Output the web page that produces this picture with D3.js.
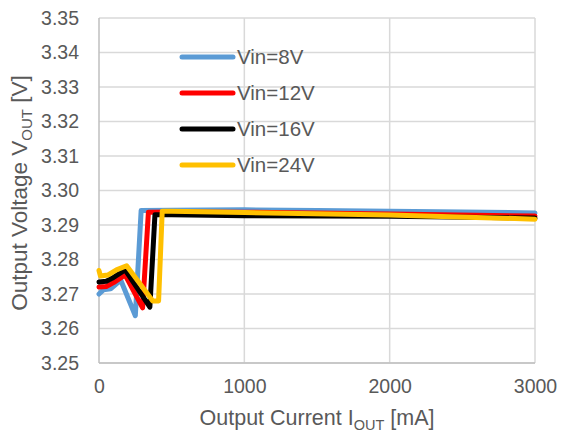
<!DOCTYPE html>
<html><head><meta charset="utf-8">
<script src="https://cdn.jsdelivr.net/npm/d3@7"></script>
<style>body{margin:0;background:#fff;}svg{display:block;font-family:"Liberation Sans",Arial,sans-serif;}</style>
</head><body>
<svg id="c" width="562" height="436"></svg>
<script>
const seriesNames = ["Vin=8V","Vin=12V","Vin=16V","Vin=24V"];
const seriesColors = ["#5B9BD5","#FF0000","#000000","#FFC000"];
const current8  = [0, 30, 80, 150, 250, 290, 500, 1000, 1500, 2000, 2500, 3000];
const volt8     = [3.2700, 3.2712, 3.2715, 3.2740, 3.2637, 3.2942, 3.2943, 3.2944, 3.2942, 3.2940, 3.2938, 3.2935];
const current12 = [0, 50, 100, 180, 300, 340, 500, 1000, 2000, 3000];
const volt12    = [3.2720, 3.2722, 3.2733, 3.2755, 3.2660, 3.2937, 3.2938, 3.2937, 3.2932, 3.2926];
const current16 = [0, 50, 100, 180, 350, 385, 500, 1000, 2000, 3000];
const volt16    = [3.2735, 3.2737, 3.2748, 3.2770, 3.2662, 3.2930, 3.2930, 3.2927, 3.2925, 3.2920];
const current24 = [0, 10, 60, 120, 190, 370, 410, 435, 500, 1000, 2000, 3000];
const volt24    = [3.2768, 3.2752, 3.2755, 3.2770, 3.2782, 3.2680, 3.2680, 3.2940, 3.2940, 3.2936, 3.2929, 3.2917];
const xTicks = [0, 1000, 2000, 3000];
const yTicks = [3.25, 3.26, 3.27, 3.28, 3.29, 3.30, 3.31, 3.32, 3.33, 3.34, 3.35];

const currents = [current8, current12, current16, current24];
const volts = [volt8, volt12, volt16, volt24];

const svg = d3.select("#c");
const L = 99, R = 535, T = 18, B = 363;
const x = d3.scaleLinear().domain([0, 3000]).range([L, R]);
const y = d3.scaleLinear().domain([3.25, 3.35]).range([B, T]);

svg.append("g").selectAll("line").data(yTicks).join("line")
  .attr("x1", L).attr("x2", R).attr("y1", d => y(d)).attr("y2", d => y(d))
  .attr("stroke", "#d9d9d9").attr("stroke-width", 1.5);
svg.append("g").selectAll("line").data(xTicks.slice(1)).join("line")
  .attr("x1", d => x(d)).attr("x2", d => x(d)).attr("y1", T).attr("y2", B)
  .attr("stroke", "#d9d9d9").attr("stroke-width", 1.5);
svg.append("line").attr("x1", L).attr("x2", L).attr("y1", T).attr("y2", B)
  .attr("stroke", "#bfbfbf").attr("stroke-width", 1.5);
svg.append("line").attr("x1", L).attr("x2", R).attr("y1", B).attr("y2", B)
  .attr("stroke", "#bfbfbf").attr("stroke-width", 1.5);

const yAxis = svg.append("g").attr("transform", `translate(${L},0)`)
  .call(d3.axisLeft(y).tickValues(yTicks).tickFormat(d3.format(".2f")).tickSize(0).tickPadding(20));
yAxis.select(".domain").remove();
yAxis.selectAll("text").attr("font-size", 19.5).attr("fill", "#595959").attr("font-family", "Liberation Sans, Arial, sans-serif");

const xAxis = svg.append("g").attr("transform", `translate(0,${B})`)
  .call(d3.axisBottom(x).tickValues(xTicks).tickFormat(d3.format("d")).tickSize(0).tickPadding(16));
xAxis.select(".domain").remove();
xAxis.selectAll("text").attr("font-size", 19.5).attr("fill", "#595959").attr("font-family", "Liberation Sans, Arial, sans-serif");

const line = d3.line().x(d => x(d[0])).y(d => y(d[1])).curve(d3.curveLinear);
currents.forEach((cs, i) => {
  const pts = cs.map((c, j) => [c, volts[i][j]]);
  svg.append("path").datum(pts).attr("d", line)
    .attr("fill", "none").attr("stroke", seriesColors[i]).attr("stroke-width", 5)
    .attr("stroke-linejoin", "round").attr("stroke-linecap", "round");
});

const lg = svg.append("g");
seriesNames.forEach((n, i) => {
  const yy = 57 + i * 36;
  lg.append("line").attr("x1", 182).attr("x2", 233).attr("y1", yy).attr("y2", yy)
    .attr("stroke", seriesColors[i]).attr("stroke-width", 5).attr("stroke-linecap", "round");
  lg.append("text").attr("x", 237).attr("y", yy + 7).attr("font-size", 20.5).attr("fill", "#595959").text(n);
});

const xt = svg.append("text").attr("x", (L + R) / 2).attr("y", 425).attr("text-anchor", "middle")
  .attr("font-size", 21.5).attr("fill", "#595959");
xt.append("tspan").text("Output Current I");
xt.append("tspan").attr("font-size", 14.5).attr("dy", 5).text("OUT");
xt.append("tspan").attr("dy", -5).text(" [mA]");

const yt = svg.append("text").attr("transform", `translate(27,193) rotate(-90)`)
  .attr("text-anchor", "middle").attr("font-size", 22.5).attr("fill", "#595959");
yt.append("tspan").text("Output Voltage V");
yt.append("tspan").attr("font-size", 15).attr("dy", 5).text("OUT");
yt.append("tspan").attr("dy", -5).text(" [V]");
</script>
</body></html>
